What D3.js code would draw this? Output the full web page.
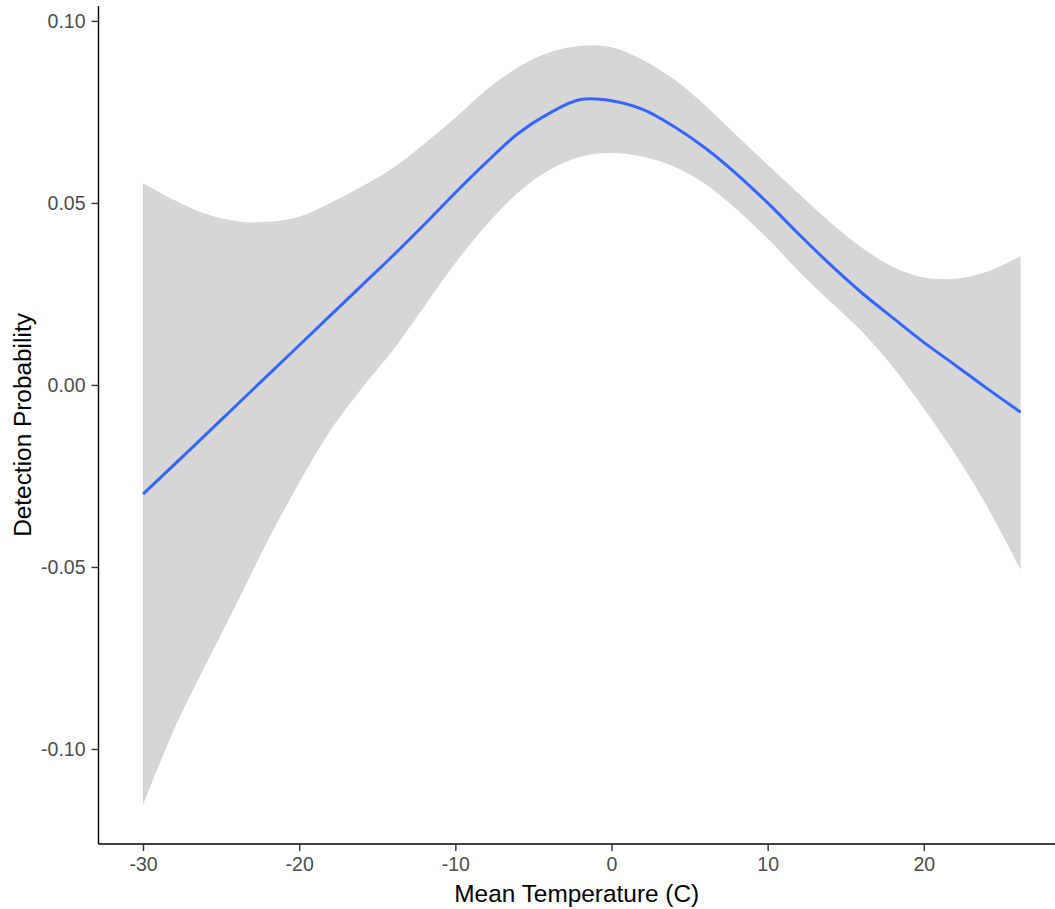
<!DOCTYPE html>
<html>
<head>
<meta charset="utf-8">
<script src="https://cdn.jsdelivr.net/npm/d3@7"></script>
<style>
  html, body { margin: 0; padding: 0; background: #fff; }
  svg { display: block; font-family: Arial, "Liberation Sans", sans-serif; }
</style>
</head>
<body>
<svg id="chart" width="1055" height="909"></svg>
<script>
// ---- data ----
const temps = [-30, -28, -26, -24, -22, -20, -18, -16, -14, -12, -10, -8, -6, -4, -2, 0, 2, 4, 6, 8, 10, 12, 14, 16, 18, 20, 22, 24, 26.2];
const fitValues = [-0.0300, -0.0219, -0.0137, -0.0055, 0.0027, 0.0109, 0.0191, 0.0273, 0.0355, 0.0440, 0.0528, 0.0612, 0.0690, 0.0746, 0.0784, 0.0781, 0.0757, 0.0710, 0.0651, 0.0580, 0.0500, 0.0414, 0.0331, 0.0254, 0.0185, 0.0117, 0.0055, -0.0008, -0.0075];
const upperValues = [0.0555, 0.0508, 0.0470, 0.0450, 0.0448, 0.0462, 0.0500, 0.0545, 0.0596, 0.0662, 0.0734, 0.0811, 0.0872, 0.0913, 0.0932, 0.0928, 0.0893, 0.0840, 0.0768, 0.0686, 0.0605, 0.0525, 0.0447, 0.0378, 0.0325, 0.0295, 0.0292, 0.0310, 0.0354];
const lowerValues = [-0.1154, -0.0945, -0.0770, -0.0600, -0.0427, -0.0268, -0.0125, -0.0010, 0.0095, 0.0215, 0.0335, 0.0440, 0.0528, 0.0590, 0.0627, 0.0637, 0.0627, 0.0600, 0.0552, 0.0483, 0.0402, 0.0312, 0.0229, 0.0148, 0.0050, -0.0065, -0.0190, -0.0330, -0.0508];
const xTicks = [-30, -20, -10, 0, 10, 20];
const yTicks = [-0.10, -0.05, 0.00, 0.05, 0.10];
const xTitle = "Mean Temperature (C)";
const yTitle = "Detection Probability";

// ---- layout ----
const mLeft = 98.5, mRight = 1055, mTop = 6, mBottom = 844;
const svg = d3.select("#chart");

const x = d3.scaleLinear().domain([-32.85, 28.4]).range([mLeft, mRight]);
const y = d3.scaleLinear().domain([-0.1261, 0.1041]).range([mBottom, mTop]);

const rows = temps.map((t, i) => ({ t, fit: fitValues[i], lo: lowerValues[i], hi: upperValues[i] }));

// ribbon
svg.append("path")
  .datum(rows)
  .attr("fill", "#D6D6D6")
  .attr("stroke", "none")
  .attr("d", d3.area()
    .x(d => x(d.t))
    .y0(d => y(d.lo))
    .y1(d => y(d.hi))
    .curve(d3.curveCatmullRom.alpha(0.5)));

// fitted line
svg.append("path")
  .datum(rows)
  .attr("fill", "none")
  .attr("stroke", "#3366FF")
  .attr("stroke-width", 3)
  .attr("d", d3.line()
    .x(d => x(d.t))
    .y(d => y(d.fit))
    .curve(d3.curveCatmullRom.alpha(0.5)));

// axes (plain hyphen-minus like the reference)
const hy = f => v => f(v).replace("\u2212", "-");
const xAxis = svg.append("g")
  .attr("transform", `translate(0,${mBottom})`)
  .call(d3.axisBottom(x).tickValues(xTicks).tickFormat(hy(d3.format("d"))).tickSize(7).tickPadding(6));
const yAxis = svg.append("g")
  .attr("transform", `translate(${mLeft},0)`)
  .call(d3.axisLeft(y).tickValues(yTicks).tickFormat(hy(d3.format(".2f"))).tickSize(7).tickPadding(6));

[xAxis, yAxis].forEach(g => {
  g.select(".domain").attr("stroke", "#000").attr("stroke-width", 1.4);
  g.selectAll(".tick line").attr("stroke", "#333").attr("stroke-width", 1.4);
  g.selectAll(".tick text")
    .attr("fill", "#4D4D4D")
    .style("font-size", "19.5px")
    .style("font-family", "Arial, 'Liberation Sans', sans-serif");
});
xAxis.select(".domain").attr("d", `M${mLeft},0H${mRight}`);
yAxis.select(".domain").attr("d", `M0,${mTop}V${mBottom}`);

// titles
svg.append("text")
  .attr("x", (mLeft + mRight) / 2)
  .attr("y", 902)
  .attr("text-anchor", "middle")
  .attr("fill", "#000")
  .style("font-size", "24.4px")
  .text(xTitle);

svg.append("text")
  .attr("transform", `translate(31,${(mTop + mBottom) / 2}) rotate(-90)`)
  .attr("text-anchor", "middle")
  .attr("fill", "#000")
  .style("font-size", "24.4px")
  .text(yTitle);
</script>
</body>
</html>
